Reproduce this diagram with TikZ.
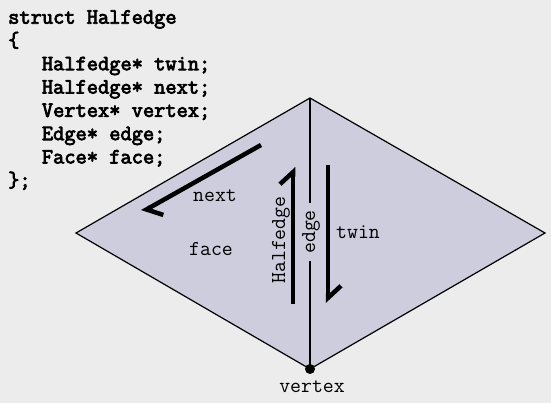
\documentclass[tikz,border=0pt]{standalone}
\usepackage{fontspec}
\newfontfamily\codefont{Latin Modern Mono}[FakeBold=3.5]
\usepackage{xcolor}
\usepackage{tikz}
\usetikzlibrary{arrows.meta}
\definecolor{bgcol}{RGB}{236,236,236}
\definecolor{facecol}{RGB}{205,205,222}
\tikzset{
    codenode/.style = {anchor=north west, align=left, inner sep=0pt, font=\codefont\fontsize{21.8}{23.3}\selectfont},
    lbl/.style = {inner sep=0pt, font=\ttfamily\fontsize{21.2}{22}\selectfont},
    heedge/.style = {line width=4.5pt, -{Straight Barb[left,length=12pt,width=26pt]}},
}
\begin{document}
\begin{tikzpicture}[
	x=1pt,
	y=-1pt,
	line join=miter
]
\fill[bgcol] (0,0) rectangle (551,403);
\useasboundingbox (0,0) rectangle (551,403);
%
\node[codenode] at (8,10) (code) {struct Halfedge\\\{\\~~~Halfedge* twin;\\~~~Halfedge* next;\\~~~Vertex* vertex;\\~~~Edge* edge;\\~~~Face* face;\\\};};
%
\coordinate (top) at (310,98);
\coordinate (left) at (76,233);
\coordinate (right) at (545,233);
\coordinate (bot) at (310,369);
\draw[fill=facecol, line width=1.2pt] (top) -- (right) -- (bot) -- (left) -- cycle;
\draw[line width=1.5pt] (top) -- (bot);
\node[lbl, fill=facecol, rotate=90, inner xsep=7pt, inner ysep=1pt] at (311,232) (edge) {edge};
\node[circle, fill=black, inner sep=0pt, minimum size=10pt] at (bot) (vtx) {};
%
\coordinate (he1) at (293,304);
\coordinate (he2) at (293,167);
\coordinate (tw1) at (328,165);
\coordinate (tw2) at (328,303);
\coordinate (nx1) at (261,145);
\coordinate (nx2) at (142,212);
\draw[heedge] (he1) -- (he2);
\draw[heedge] (tw1) -- (tw2);
\draw[heedge] (nx1) -- (nx2);
%
\node[lbl, anchor=base] at (215,202) (nextlbl) {next};
\node[lbl, anchor=base] at (211,255) (facelbl) {face};
\node[lbl, anchor=base] at (358,239) (twinlbl) {twin};
\node[lbl, anchor=base] at (312,392) (vtxlbl) {vertex};
\node[lbl, rotate=90] at (281,240) (helbl) {Halfedge};
\end{tikzpicture}
\end{document}
